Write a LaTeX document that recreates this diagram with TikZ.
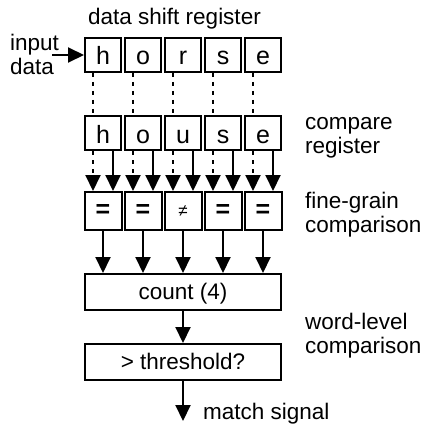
\documentclass[tikz,border=0pt]{standalone}
\usepackage{fontspec}
\setmainfont{Liberation Sans}
\usetikzlibrary{positioning}
\usetikzlibrary{arrows.meta}
\newcommand{\lblfont}{\fontsize{22.5}{24}\selectfont}
\newcommand{\boxfont}{\fontsize{25}{28}\selectfont}
\tikzset{
        % Register cells
        regbox/.style={draw, line width=2pt, minimum width=36pt, minimum height=34pt, inner sep=0pt, font=\boxfont, text height=20pt, text depth=0pt},
        % Fine-grain comparison cells
        cmpbox/.style={draw, line width=2pt, minimum width=37pt, minimum height=38pt, inner sep=0pt, font=\boxfont},
        % Word-level boxes
        widebox/.style={draw, line width=2pt, minimum width=196pt, minimum height=36pt, inner sep=0pt, font=\lblfont, text height=15pt, text depth=0pt},
        % Side labels
        lbl/.style={align=left, inner sep=0pt, font=\lblfont},
        % Arrows
        flow/.style={line width=2pt, -{Triangle[length=16pt,width=15pt]}},
        tap/.style={line width=2pt, dash pattern=on 4pt off 5pt}
}
\begin{document}
\begin{tikzpicture}[x=1pt, y=-1pt]
            \useasboundingbox (0,0) rectangle (424,425);
            % data shift register
            \node[regbox] (d1) at (103,55) {h};
            \node[regbox, right=2pt of d1] (d2) {o};
            \node[regbox, right=2pt of d2] (d3) {r};
            \node[regbox, right=2pt of d3] (d4) {s};
            \node[regbox, right=2pt of d4] (d5) {e};
            % compare register
            \node[regbox, below=42pt of d1] (c1) {h};
            \node[regbox, right=2pt of c1] (c2) {o};
            \node[regbox, right=2pt of c2] (c3) {u};
            \node[regbox, right=2pt of c3] (c4) {s};
            \node[regbox, right=2pt of c4] (c5) {e};
            % fine-grain comparison
            \node[cmpbox, below=40pt of c1] (f1) {\textbf{=}};
            \node[cmpbox, right=1pt of f1] (f2) {\textbf{=}};
            \node[cmpbox, right=1pt of f2] (f3) {\fontsize{17}{20}\selectfont ≠};
            \node[cmpbox, right=1pt of f3] (f4) {\textbf{=}};
            \node[cmpbox, right=1pt of f4] (f5) {\textbf{=}};
            % word-level comparison
            \node[widebox, below=42pt of f3] (cnt) {count (4)};
            \node[widebox, below=32pt of cnt] (thr) {> threshold?};
            \coordinate[below=40pt of thr.south] (out);
            \coordinate (inp) at (52,55);

            % labels (base = last line)
            \node[lbl, anchor=base west] (title) at (88,25) {data shift register};
            \node[lbl, anchor=base west] (indata) at (10,75) {input\\data};
            \node[lbl, anchor=base west] (cmplbl) at (305,153) {compare\\register};
            \node[lbl, anchor=base west] (finelbl) at (305,232) {fine-grain\\comparison};
            \node[lbl, anchor=base west] (wordlbl) at (305,353) {word-level\\comparison};
            \node[lbl, anchor=base west] (sig) at (203,419) {match signal};

            % connectors
            \draw[flow] (inp) -- (d1.west);
            \foreach \i in {1,...,5} {
                \draw[tap] ([xshift=-10pt]d\i.south) -- ([xshift=-10pt]c\i.north);
                \draw[flow, tap] ([xshift=-10pt]c\i.south) -- ([xshift=-10pt]f\i.north);
                \draw[flow] ([xshift=10pt]c\i.south) -- ([xshift=10pt]f\i.north);
                \draw[flow] (f\i.south) -- (f\i.south |- cnt.north);
            }
            \draw[flow] (cnt.south) -- (thr.north);
            \draw[flow] (thr.south) -- (out);
\end{tikzpicture}
\end{document}
